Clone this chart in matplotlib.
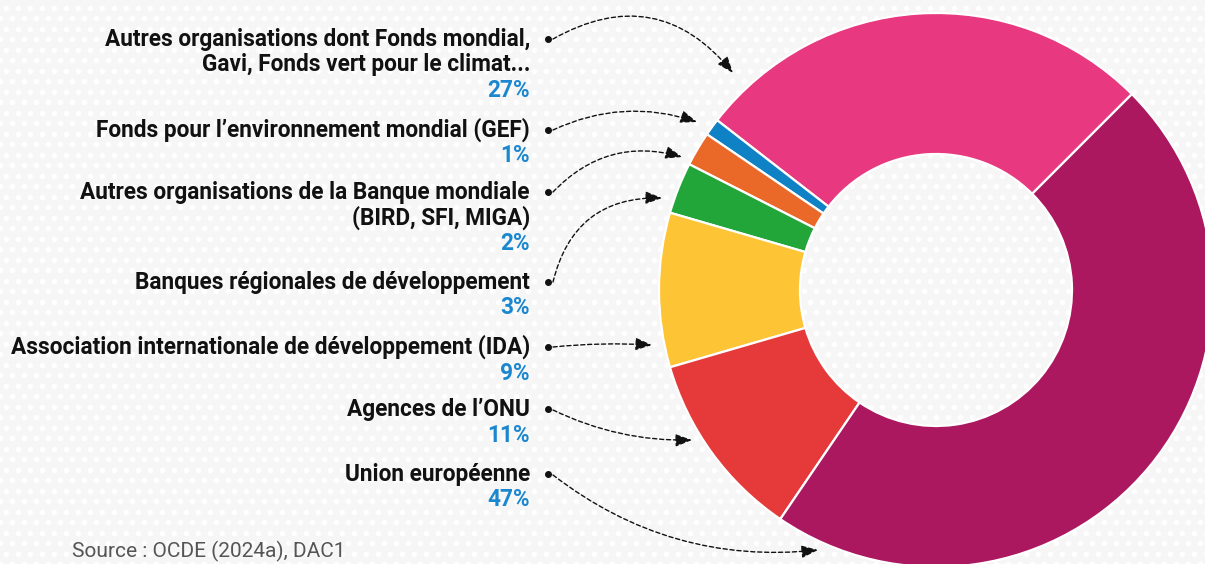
import numpy as np
import matplotlib.pyplot as plt

plt.rcParams['font.family'] = ['Roboto', 'DejaVu Sans']

# data
labels = [
    "Autres organisations dont Fonds mondial,\nGavi, Fonds vert pour le climat...",
    "Fonds pour l\u2019environnement mondial (GEF)",
    "Autres organisations de la Banque mondiale\n(BIRD, SFI, MIGA)",
    "Banques régionales de développement",
    "Association internationale de développement (IDA)",
    "Agences de l\u2019ONU",
    "Union européenne",
]
shares = [27, 1, 2, 3, 9, 11, 47]
colors = ["#E8387F", "#0E82C4", "#EA6828", "#22A63A", "#FDC536", "#E5393A", "#AB1860"]

W, H = 1205, 564
BG = "#f6f6f6"


def py(y):
    # pixel row -> data y
    return H - y


fig = plt.figure(figsize=(W / 100, H / 100), dpi=100, facecolor=BG)
ax = fig.add_axes([0, 0, 1, 1])
ax.set_facecolor(BG)

# faint halftone dots in the background
gx, gy = np.meshgrid(np.arange(0, W + 12, 12), np.arange(0, H + 12, 10.5))
gx = gx + (np.arange(gx.shape[0])[:, None] % 2) * 6
ax.scatter(gx.ravel(), gy.ravel(), s=16, color="white", lw=0, zorder=0)

# donut
cx, cy, R, r = 936, py(290), 277, 136
ax.pie(shares, colors=colors, startangle=45, counterclock=True,
       center=(cx, cy), radius=R,
       wedgeprops=dict(width=R - r, edgecolor="white", linewidth=1.6))

# labels
first_base = [46, 137, 199, 289, 354, 416, 481]
line_h = 25.5
fs = 16.3
for lab, val, b in zip(labels, shares, first_base):
    lines = lab.split("\n")
    for i, ln in enumerate(lines):
        ax.text(530, py(b + i * line_h), ln, ha="right", va="baseline",
                fontsize=fs, fontweight="bold", color="#111111")
    ax.text(530, py(b + len(lines) * line_h), f"{val}%", ha="right",
            va="baseline", fontsize=fs, fontweight="bold", color="#1B87CF")
    ax.plot(548, py(b - 7), "o", color="#111111", ms=4, zorder=5)

# dashed arrows from the labels to the slices
starts = [(553, 39), (553, 130), (553, 192), (553, 282), (553, 347), (553, 410), (553, 475)]
ends = [(733, 73), (697, 122), (682, 157), (662, 198), (652, 345), (692, 440), (818, 550)]
rads = [-0.42, -0.2, -0.3, -0.4, -0.04, 0.12, 0.2]
for (x0, y0), (x1, y1), rad in zip(starts, ends, rads):
    ax.annotate("", xy=(x1, py(y1)), xytext=(x0, py(y0)),
                arrowprops=dict(arrowstyle="-|>,head_length=1.0,head_width=0.38",
                                mutation_scale=10, color="#111111", lw=1.0,
                                linestyle=(0, (3, 2)), shrinkA=0, shrinkB=0,
                                connectionstyle=f"arc3,rad={rad}"))

ax.text(72, py(562), "Source : OCDE (2024a), DAC1", ha="left", va="bottom",
        fontsize=15, color="#555555")

ax.set_xlim(0, W)
ax.set_ylim(0, H)
ax.set_aspect("equal")
ax.axis("off")

fig.savefig("out.png", dpi=100, facecolor=BG)
